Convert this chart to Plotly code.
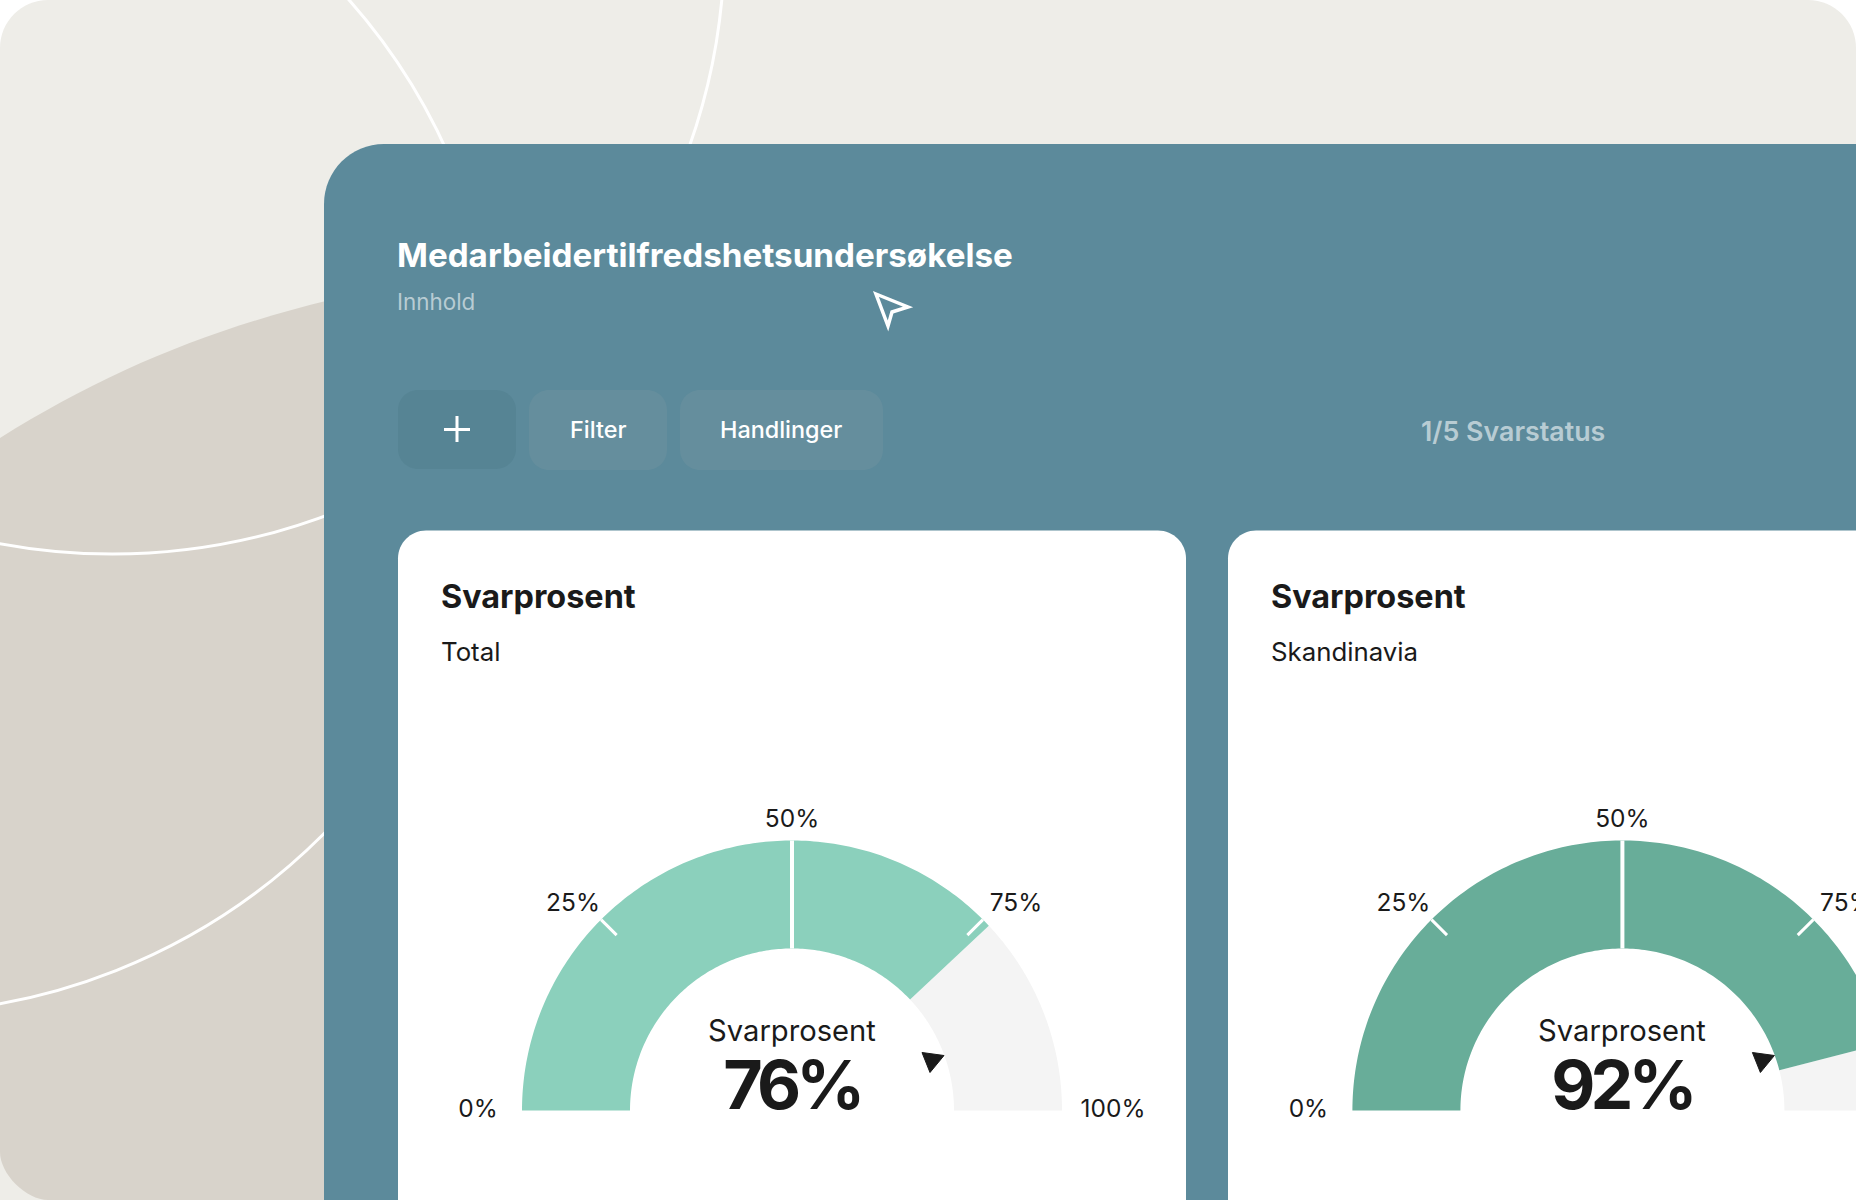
import numpy as np
import plotly.graph_objects as go

# ---------- data ----------
CARD_TITLES = ["Svarprosent", "Svarprosent"]
CARD_SUBTITLES = ["Total", "Skandinavia"]
GAUGE_CAPTION = "Svarprosent"
GAUGE_VALUES = [76, 92]
TICK_VALUES = [0, 25, 50, 75, 100]
TICK_LABELS = ["0%", "25%", "50%", "75%", "100%"]
PAGE_TITLE = "Medarbeidertilfredshetsundersøkelse"
PAGE_SUB = "Innhold"
BUTTON_LABELS = ["Filter", "Handlinger"]
STATUS = "1/5 Svarstatus"

# ---------- layout constants (pixels) ----------
W, H = 1856, 1200
FONT = "Inter"
INK = "#1A1A1A"
BG = "#EEEDE8"
BLOB = "#D8D3CB"
PANEL = "#5C8A9B"
BTN_DARK = "#568494"
BTN = "#658E9D"
MUTED = "#B8CCD3"
REST = "#F4F4F4"
GAUGE_COLORS = ["#8BD0BC", "#68AD99"]
CENTERS = [792, 1622.4]
BASE_Y = 1110.5
R_OUT, R_IN = 270, 162
TICK_LEN = 22
LABEL_OFFSETS = [(-314, 0.5), (-219, -205.5), (0, -289.5), (224, -205.5), (321, 0.5)]
CARD_X = [438.6, 1268.6]
POINTER = [(130, -58), (152, -55), (138, -38)]
K = 0.448  # cubic corner handle, as a share of the radius


def rrect(x0, y0, x1, y1, r):
    k = K * r
    return (f"M{x0+r},{y0} L{x1-r},{y0} C{x1-k},{y0} {x1},{y0+k} {x1},{y0+r} L{x1},{y1-r} "
            f"C{x1},{y1-k} {x1-k},{y1} {x1-r},{y1} L{x0+r},{y1} C{x0+k},{y1} {x0},{y1-k} {x0},{y1-r} "
            f"L{x0},{y0+r} C{x0},{y0+k} {x0+k},{y0} {x0+r},{y0} Z")


def angle(v):
    return np.pi * (1 - v / 100)


def sector(cx, v0, v1):
    a = np.linspace(angle(v0), angle(v1), 160)
    xs = np.r_[cx + R_OUT * np.cos(a), cx + R_IN * np.cos(a[::-1])]
    ys = np.r_[BASE_Y - R_OUT * np.sin(a), BASE_Y - R_IN * np.sin(a[::-1])]
    return np.r_[xs, xs[0]], np.r_[ys, ys[0]]


def path_shape(d, fill=None, line=None, lw=0):
    s = dict(type="path", path=d, xref="x", yref="y", layer="below", line=dict(width=lw, color=line or "rgba(0,0,0,0)"))
    if fill:
        s["fillcolor"] = fill
    return s


def circle(cx, cy, r):
    return dict(type="circle", xref="x", yref="y", layer="below", x0=cx - r, x1=cx + r, y0=cy - r, y1=cy + r,
                line=dict(color="white", width=3), fillcolor="rgba(0,0,0,0)")


shapes = [
    path_shape(rrect(0, 0, W, H + 80, 48), BG),
    path_shape(f"M0,438 C105,372 210,329 330,300 L330,{H} L48,{H} C26,{H} 0,{H-26} 0,{H-48} Z", BLOB),
    circle(112.5, -58, 612),
    circle(-108.5, 403.4, 610),
    path_shape(rrect(324, 144, W + 100, H + 100, 60), PANEL),
    path_shape(rrect(398, 390, 516, 469, 20), BTN_DARK),
    path_shape(rrect(529, 390, 667, 470, 20), BTN),
    path_shape(rrect(680, 390, 883, 470, 20), BTN),
    path_shape("M457,416 L457,442 M444,429.5 L470,429.5", None, "white", 3),
    path_shape("M876,294 L908,307 L892,312 L888,326 Z", None, "white", 3.5),
    path_shape(rrect(398, 530.5, 1186, H + 60, 28), "white"),
    path_shape(rrect(1228, 530.5, W + 100, H + 60, 28), "white"),
]

fig = go.Figure()
for cx, val, col in zip(CENTERS, GAUGE_VALUES, GAUGE_COLORS):
    for v0, v1, c in ((val, 100, REST), (0, val, col)):
        xs, ys = sector(cx, v0, v1)
        fig.add_trace(go.Scatter(x=xs, y=ys, fill="toself", fillcolor=c, mode="none", hoverinfo="skip"))
    # tick marks
    for v in TICK_VALUES[1:-1]:
        a = angle(v)
        inner = R_IN if v == 50 else R_OUT - TICK_LEN
        fig.add_trace(go.Scatter(
            x=[cx + R_OUT * np.cos(a), cx + inner * np.cos(a)],
            y=[BASE_Y - R_OUT * np.sin(a), BASE_Y - inner * np.sin(a)],
            mode="lines", line=dict(color="white", width=4 if v == 50 else 3), hoverinfo="skip"))
    # pointer
    fig.add_trace(go.Scatter(
        x=[cx + p[0] for p in POINTER] + [cx + POINTER[0][0]],
        y=[BASE_Y + p[1] for p in POINTER] + [BASE_Y + POINTER[0][1]],
        fill="toself", fillcolor=INK, mode="lines", line=dict(color=INK, width=1), hoverinfo="skip"))
    # tick labels that fall on the canvas
    shown = [i for i, o in enumerate(LABEL_OFFSETS) if cx + o[0] < W]
    fig.add_trace(go.Scatter(
        x=[cx + LABEL_OFFSETS[i][0] for i in shown], y=[BASE_Y + LABEL_OFFSETS[i][1] for i in shown],
        text=[TICK_LABELS[i] for i in shown], mode="text", textposition="middle center",
        textfont=dict(family=FONT, size=24.5, color=INK), hoverinfo="skip"))


def label(x, y, text, size, color, weight=400, anchor="left"):
    fig.add_annotation(x=x, y=y, text=text, showarrow=False, xref="x", yref="y", xanchor=anchor, yanchor="middle",
                       font=dict(family=FONT, size=size, color=color, weight=weight))


label(394.6, 255, PAGE_TITLE, 33.2, "white", 700)
label(394.6, 301, PAGE_SUB, 22.4, MUTED)
label(598, 429, BUTTON_LABELS[0], 23.4, "white", 500, "center")
label(781, 429, BUTTON_LABELS[1], 23.4, "white", 500, "center")
label(1513, 431, STATUS, 26.8, MUTED, 600, "center")
for x, t, s, cx, val in zip(CARD_X, CARD_TITLES, CARD_SUBTITLES, CENTERS, GAUGE_VALUES):
    label(x, 596, t, 32.4, INK, 700)
    label(x, 651, s, 25.8, INK)
    label(cx, 1030, GAUGE_CAPTION, 29.2, INK, 400, "center")
    label(cx, 1084, f"{val}%", 68, INK, 700, "center")

fig.update_layout(
    width=W, height=H, margin=dict(l=0, r=0, t=0, b=0), showlegend=False,
    paper_bgcolor="white", plot_bgcolor="rgba(0,0,0,0)", shapes=shapes,
    xaxis=dict(range=[0, W], visible=False, fixedrange=True),
    yaxis=dict(range=[H, 0], visible=False, fixedrange=True),
)
# page reset, plus the tighter tracking of the large gauge figures
post = """
document.body.style.margin='0';document.body.style.overflow='hidden';
document.querySelectorAll('.annotation-text').forEach(function(t){
  if(/^\\d+%$/.test(t.textContent)){t.style.letterSpacing='-0.072em';}
});
"""
fig.write_html("out.html", config=dict(displayModeBar=False), post_script=post)
